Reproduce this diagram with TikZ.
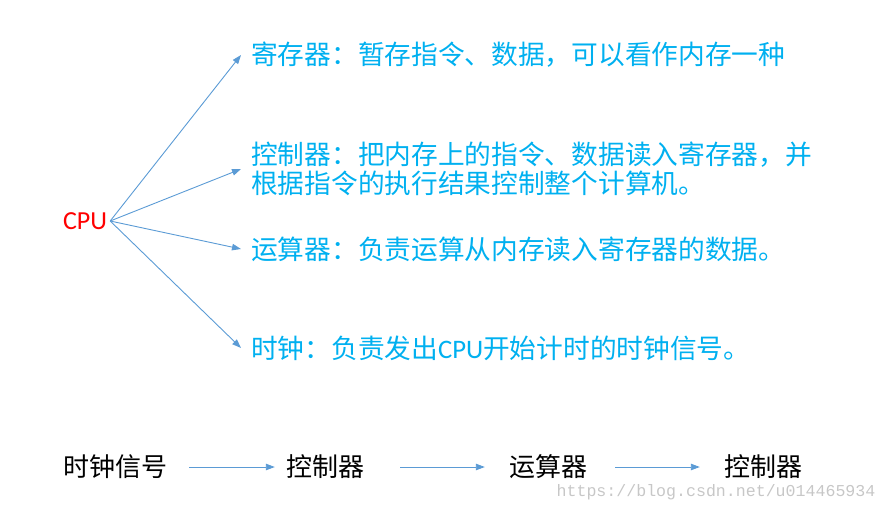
\documentclass[tikz,border=0pt]{standalone}
\usepackage{fontspec}
\setmainfont{Carlito}
\newfontfamily\cjkfont{Noto Sans CJK SC}
\newfontfamily\markfont{Liberation Mono}
\usetikzlibrary{arrows.meta,positioning}
\definecolor{cpuRed}{HTML}{FF0000}
\definecolor{partBlue}{HTML}{00B0F0}
\definecolor{arrowBlue}{HTML}{5B9BD5}
\tikzset{
  cpubox/.style={text=cpuRed, font=\fontsize{26}{30}\selectfont, inner sep=3pt},
  part/.style={anchor=west, inner xsep=10pt, inner ysep=0pt, align=left,
        text=partBlue, font=\cjkfont\fontsize{26.7}{29}\selectfont},
  stage/.style={inner sep=0pt, text=black, font=\cjkfont\fontsize{26}{30}\selectfont},
  link/.style={-{Triangle[length=9pt,width=6.5pt]}, line width=0.9pt, draw=arrowBlue},
  wmark/.style={inner sep=0pt, text=black!22, font=\markfont\fontsize{16.6}{20}\selectfont}
}
\begin{document}
\begin{tikzpicture}[x=1pt,y=-1pt]
\useasboundingbox (0,0) rectangle (888,511);
% CPU and its parts
\node[cpubox] (cpu) at (85,221) {CPU};
\node[part] (reg) at (241,55) {寄存器：暂存指令、数据，可以看作内存一种};
\node[part] (ctl) at (241,169) {控制器：把内存上的指令、数据读入寄存器，并\\根据指令的执行结果控制整个计算机。};
\node[part] (alu) at (241,249) {运算器：负责运算从内存读入寄存器的数据。};
\node[part] (clk) at (241,348) {时钟：负责发出{\rmfamily CPU}开始计时的时钟信号。};

\draw[link] (cpu.east) -- (reg.west);
\draw[link] (cpu.east) -- (ctl.west);
\draw[link] (cpu.east) -- (alu.west);
\draw[link] (cpu.east) -- (clk.west);

% working order
\node[stage] (sig) at (115,467) {时钟信号};
\node[stage] (ctlA) at (325,467) {控制器};
\node[stage] (aluB) at (548,467) {运算器};
\node[stage] (ctlB) at (763,467) {控制器};

\draw[link, shorten <=22pt, shorten >=11pt] (sig.east) -- (ctlA.west);
\draw[link, shorten <=36pt, shorten >=24pt] (ctlA.east) -- (aluB.west);
\draw[link, shorten <=28pt, shorten >=24pt] (aluB.east) -- (ctlB.west);

\node[wmark] (mark) at (716,492) {https://blog.csdn.net/u014465934};
\end{tikzpicture}
\end{document}
